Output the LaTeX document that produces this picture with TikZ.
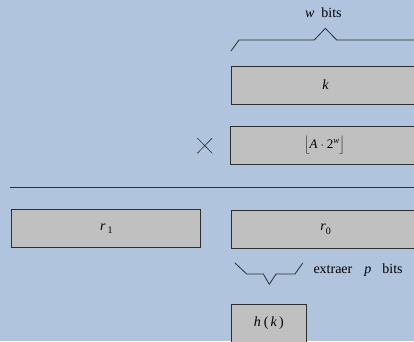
\documentclass[tikz,border=0pt]{standalone}
\usepackage{fontspec}
\setmainfont{Liberation Serif}
\definecolor{bgblue}{HTML}{B0C4DE}
\definecolor{boxgray}{HTML}{C0C0C0}
\definecolor{inkline}{HTML}{2E2E2E}
\newcommand{\lowidx}[2][0pt]{\hspace{#1}\raisebox{-3.5pt}{\fontsize{10}{11}\selectfont #2}}
\begin{document}
\begin{tikzpicture}[x=1pt,y=-1pt,
  wordbox/.style={draw=inkline, fill=boxgray, line width=0.8pt, minimum width=189pt,
    minimum height=38pt, inner sep=0pt, font=\fontsize{14}{16}\selectfont},
  smallbox/.style={wordbox, minimum width=75.7pt},
  brace/.style={draw=inkline, line width=0.8pt},
  label/.style={font=\fontsize{14}{16}\selectfont, inner sep=0pt}]
  % background and frame
  \fill[bgblue] (0,0) rectangle (414,341);
  \clip (0,0) rectangle (414,341);

  % operand registers
  \node[wordbox] (k) at (325.5,85) {\textit{k}};
  \node[wordbox, font=\fontsize{13}{15}\selectfont] (a) at (324.5,145.5)
    {$\Big\lfloor$\textit{A}\hspace{3pt}$\cdot$\hspace{3pt}2\raisebox{5pt}{\fontsize{9}{10}\selectfont\textit{w}}$\Big\rfloor$};
  \node[label] (times) at (204.8,145.6) {};
  \draw[inkline, line width=0.6pt] (197.3,138) -- (212.3,153.3) (197.3,153.3) -- (212.3,138);

  % word width brace
  \node[label] (wlabel) at (323.3,12.5) {\textit{w}\ \ bits};
  \draw[brace] (231,51) -- (239,40) -- (314.3,40) -- (325.3,28.3) -- (336.7,40) -- (420,40);

  % product rule
  \coordinate (ruleL) at (10,187.3);
  \coordinate (ruleR) at (420,187.3);
  \draw[inkline, line width=0.8pt] (ruleL) -- (ruleR);

  % product halves
  \node[wordbox] (r1) at (106.3,228.7) {\textit{r}\lowidx[2pt]{1}};
  \node[wordbox] (r0) at (325.5,229) {\textit{r}\lowidx{0}};

  % extraction brace
  \draw[brace] (235,263) -- (246.7,274) -- (263.3,274) -- (269.3,284.3) -- (276,274) -- (295,274) -- (302.7,263);
  \node[label, anchor=west] (extract) at (313.3,270.5)
    {extraer\hspace{12pt}\textit{p}\hspace{11pt}bits};

  % hash value
  \node[smallbox] (hk) at (268.8,323.3) {\textit{h}\hspace{3pt}(\hspace{2pt}\textit{k}\hspace{2pt})};
\end{tikzpicture}
\end{document}
